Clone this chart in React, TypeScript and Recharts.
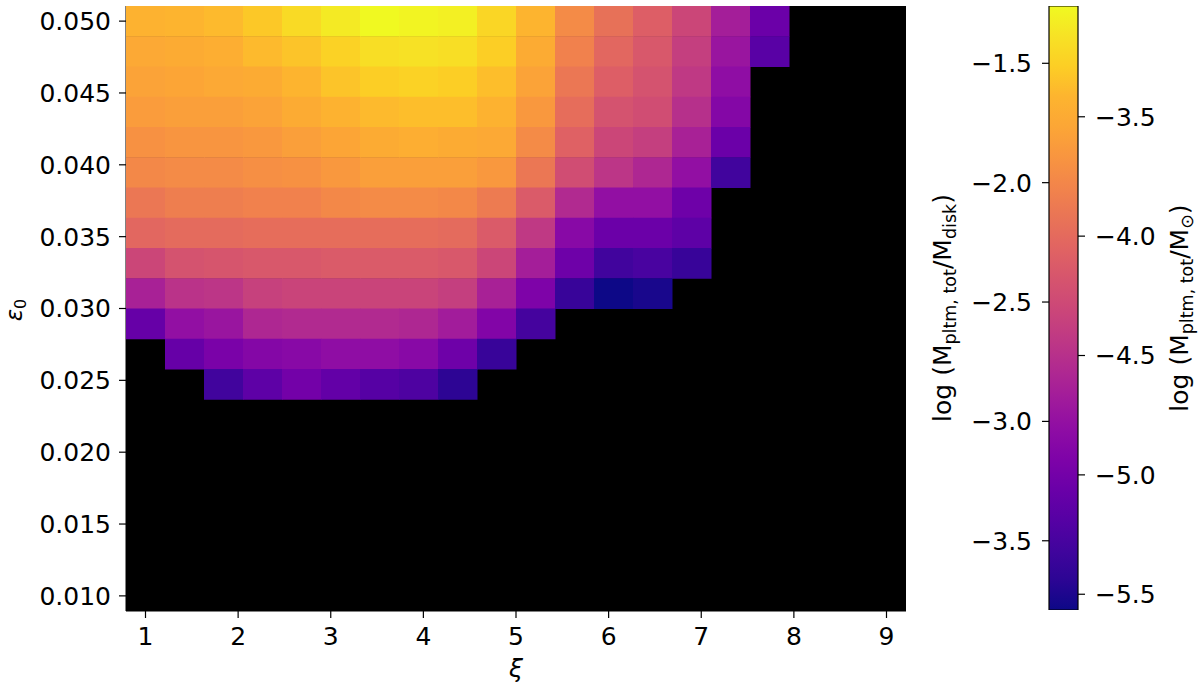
import { ScatterChart, Scatter, XAxis, YAxis, ReferenceArea, ComposedChart, Bar } from "recharts";

const FONT = "DejaVu Sans, sans-serif";

// cell centres of the parameter scan
const xiValues = [
  1, 1.421053, 1.842105, 2.263158, 2.684211, 3.105263, 3.526316, 3.947368, 4.368421, 4.789474,
  5.210526, 5.631579, 6.052632, 6.473684, 6.894737, 7.315789, 7.736842, 8.157895, 8.578947, 9,
];
const epsValues = [
  0.01, 0.012105, 0.014211, 0.016316, 0.018421, 0.020526, 0.022632, 0.024737, 0.026842, 0.028947,
  0.031053, 0.033158, 0.035263, 0.037368, 0.039474, 0.041579, 0.043684, 0.045789, 0.047895, 0.05,
];

// log(M_pltm,tot / M_disk) along xi for each eps0 row; missing / null = no planetesimals (black)
const logMass_eps0500 = [-1.66, -1.64, -1.61, -1.54, -1.44, -1.34, -1.26, -1.29, -1.31, -1.46, -1.64, -1.97, -2.17, -2.32, -2.53, -2.88, -3.28];
const logMass_eps0479 = [-1.74, -1.72, -1.69, -1.61, -1.56, -1.49, -1.41, -1.39, -1.41, -1.51, -1.72, -2.04, -2.25, -2.37, -2.6, -2.96, -3.39];
const logMass_eps0458 = [-1.79, -1.77, -1.74, -1.72, -1.64, -1.56, -1.51, -1.49, -1.51, -1.59, -1.79, -2.12, -2.32, -2.42, -2.65, -3.03];
const logMass_eps0437 = [-1.84, -1.82, -1.82, -1.79, -1.72, -1.66, -1.61, -1.59, -1.59, -1.66, -1.87, -2.2, -2.42, -2.47, -2.73, -3.11];
const logMass_eps0416 = [-1.92, -1.89, -1.89, -1.87, -1.82, -1.77, -1.72, -1.69, -1.72, -1.74, -1.97, -2.3, -2.53, -2.6, -2.85, -3.28];
const logMass_eps0395 = [-1.99, -1.97, -1.97, -1.94, -1.92, -1.87, -1.82, -1.82, -1.82, -1.87, -2.12, -2.47, -2.68, -2.8, -3.01, -3.54];
const logMass_eps0374 = [-2.12, -2.07, -2.07, -2.04, -2.04, -1.99, -1.97, -1.97, -1.99, -2.09, -2.35, -2.78, -3.01, -3.01, -3.26];
const logMass_eps0353 = [-2.25, -2.22, -2.22, -2.2, -2.2, -2.2, -2.2, -2.2, -2.22, -2.35, -2.65, -3.08, -3.28, -3.28, -3.36];
const logMass_eps0332 = [-2.53, -2.42, -2.4, -2.37, -2.37, -2.35, -2.35, -2.35, -2.37, -2.53, -2.88, -3.26, -3.54, -3.49, -3.59];
const logMass_eps0311 = [-2.85, -2.7, -2.68, -2.58, -2.55, -2.55, -2.55, -2.55, -2.6, -2.85, -3.16, -3.59, -3.79, -3.74];
const logMass_eps0289 = [-3.31, -3.01, -2.96, -2.8, -2.78, -2.78, -2.78, -2.8, -2.9, -3.13, -3.51];
const logMass_eps0268 = [null, -3.31, -3.18, -3.11, -3.08, -3.03, -3.03, -3.08, -3.26, -3.59];
const logMass_eps0247 = [null, null, -3.54, -3.36, -3.23, -3.33, -3.41, -3.46, -3.66];

const massRows: [number, (number | null)[]][] = [
  [epsValues[19], logMass_eps0500],
  [epsValues[18], logMass_eps0479],
  [epsValues[17], logMass_eps0458],
  [epsValues[16], logMass_eps0437],
  [epsValues[15], logMass_eps0416],
  [epsValues[14], logMass_eps0395],
  [epsValues[13], logMass_eps0374],
  [epsValues[12], logMass_eps0353],
  [epsValues[11], logMass_eps0332],
  [epsValues[10], logMass_eps0311],
  [epsValues[9], logMass_eps0289],
  [epsValues[8], logMass_eps0268],
  [epsValues[7], logMass_eps0247],
];

// colour limits (left colorbar axis) and log(M_disk/M_sun) for the right one
const colorMin = -3.79;
const colorMax = -1.26;
const logDiskMass = -1.776;

const xiTicks = [1, 2, 3, 4, 5, 6, 7, 8, 9];
const epsTicks = [0.01, 0.015, 0.02, 0.025, 0.03, 0.035, 0.04, 0.045, 0.05];
const cbDiskTicks = [-3.5, -3, -2.5, -2, -1.5];
const cbSunTicks = [-5.5, -5, -4.5, -4, -3.5];

const PLASMA = [
  "#0d0887", "#2c0594", "#41049d", "#5601a4", "#6a00a8", "#7e03a8", "#8f0da4", "#a11b9b",
  "#b12a90", "#bf3984", "#cc4778", "#d6556d", "#e16462", "#e97456", "#f2844b", "#f89540",
  "#fca636", "#fdb42f", "#fcce25", "#f7e225", "#f0f921",
];

const hexRgb = (h: string) => [1, 3, 5].map((i) => parseInt(h.slice(i, i + 2), 16));

function plasma(v: number) {
  const t = Math.min(1, Math.max(0, (v - colorMin) / (colorMax - colorMin)));
  const p = t * (PLASMA.length - 1);
  const i = Math.min(PLASMA.length - 2, Math.floor(p));
  const f = p - i;
  const a = hexRgb(PLASMA[i]);
  const b = hexRgb(PLASMA[i + 1]);
  const c = a.map((x, k) => Math.round(x + (b[k] - x) * f));
  return `rgb(${c[0]},${c[1]},${c[2]})`;
}

const cells = massRows.flatMap(([eps, row]) =>
  row.flatMap((v, i) => (v == null ? [] : [{ xi: xiValues[i], eps, v }]))
);

// the colorbar is one floating bar spanning the colour range
const colorbarData = [{ name: "cb", range: [colorMin, colorMax] }];

const halfXi = (xiValues[1] - xiValues[0]) / 2;
const halfEps = (epsValues[1] - epsValues[0]) / 2;
const xDomain = [xiValues[0] - halfXi, xiValues[xiValues.length - 1] + halfXi];
const yDomain = [epsValues[0] - halfEps, epsValues[epsValues.length - 1] + halfEps];

// main plot box: 780 x 605 px
const PLOT_W = 780;
const PLOT_H = 605;
const CELL_W = PLOT_W / xiValues.length;
const CELL_H = PLOT_H / epsValues.length;

const CellShape = (props: any) => {
  const { cx, cy, payload } = props;
  return (
    <rect
      x={cx - CELL_W / 2}
      y={cy - CELL_H / 2}
      width={CELL_W + 0.5}
      height={CELL_H + 0.5}
      fill={plasma(payload.v)}
    />
  );
};

const tickStyle = { fontSize: 25, fill: "#000", fontFamily: FONT };
const minus = (v: number) => (v < 0 ? "\u2212" : "") + Math.abs(v).toFixed(1);

export default function App() {
  return (
    <div style={{ position: "absolute", left: 0, top: 0, width: 1200, height: 690, background: "#fff" }}>
      <svg width={0} height={0} style={{ position: "absolute" }}>
        <defs>
          <linearGradient id="plasmaGrad" x1="0" y1="1" x2="0" y2="0">
            {PLASMA.map((c, i) => (
              <stop key={i} offset={i / (PLASMA.length - 1)} stopColor={c} />
            ))}
          </linearGradient>
        </defs>
      </svg>

      <div style={{ position: "absolute", left: 0, top: 0 }}>
        <ScatterChart width={910} height={690} margin={{ top: 6, right: 4, bottom: 0, left: 0 }}>
          <ReferenceArea
            x1={xDomain[0]}
            x2={xDomain[1]}
            y1={yDomain[0]}
            y2={yDomain[1]}
            fill="#000"
            fillOpacity={1}
            stroke="none"
          />
          <Scatter data={cells} shape={<CellShape />} isAnimationActive={false} />
          <XAxis
            type="number"
            dataKey="xi"
            domain={xDomain}
            ticks={xiTicks}
            interval={0}
            height={79}
            tickSize={7}
            tickMargin={9}
            tick={tickStyle}
            tickLine={{ stroke: "#000", strokeWidth: 1.2 }}
            axisLine={{ stroke: "#000", strokeWidth: 1 }}
            allowDataOverflow
          />
          <YAxis
            type="number"
            dataKey="eps"
            domain={yDomain}
            ticks={epsTicks}
            interval={0}
            width={126}
            tickSize={7}
            tickMargin={8}
            tick={tickStyle}
            tickFormatter={(v: number) => v.toFixed(3)}
            tickLine={{ stroke: "#000", strokeWidth: 1.2 }}
            axisLine={{ stroke: "#000", strokeWidth: 1 }}
            allowDataOverflow
          />
          <XAxis
            xAxisId="top"
            orientation="top"
            type="number"
            domain={xDomain}
            height={0}
            tick={false}
            tickLine={false}
            axisLine={{ stroke: "#000", strokeWidth: 1 }}
            allowDataOverflow
          />
          <YAxis
            yAxisId="right"
            orientation="right"
            type="number"
            domain={yDomain}
            width={0}
            tick={false}
            tickLine={false}
            axisLine={{ stroke: "#000", strokeWidth: 1 }}
            allowDataOverflow
          />
        </ScatterChart>
      </div>

      <div style={{ position: "absolute", left: 910, top: 0 }}>
        <ComposedChart
          width={290}
          height={690}
          data={colorbarData}
          margin={{ top: 6, right: 0, bottom: 80, left: 0 }}
          barCategoryGap={0}
          barGap={0}
        >
          <XAxis dataKey="name" type="category" hide />
          <YAxis
            yAxisId="disk"
            type="number"
            domain={[colorMin, colorMax]}
            ticks={cbDiskTicks}
            interval={0}
            width={139}
            tickSize={7}
            tickMargin={10}
            tick={tickStyle}
            tickFormatter={minus}
            tickLine={{ stroke: "#000", strokeWidth: 1.2 }}
            axisLine={false}
            allowDataOverflow
          />
          <YAxis
            yAxisId="sun"
            orientation="right"
            type="number"
            domain={[colorMin + logDiskMass, colorMax + logDiskMass]}
            ticks={cbSunTicks}
            interval={0}
            width={122}
            tickSize={7}
            tickMargin={10}
            tick={tickStyle}
            tickFormatter={minus}
            tickLine={{ stroke: "#000", strokeWidth: 1.2 }}
            axisLine={false}
            allowDataOverflow
          />
          <Bar
            yAxisId="disk"
            dataKey="range"
            fill="url(#plasmaGrad)"
            stroke="#000"
            strokeWidth={1.2}
            isAnimationActive={false}
          />
        </ComposedChart>
      </div>

      <svg
        width={1200}
        height={690}
        style={{ position: "absolute", left: 0, top: 0, pointerEvents: "none" }}
        fontFamily={FONT}
      >
        <text x={516} y={677} textAnchor="middle" fontSize={25} fontStyle="italic">
          ξ
        </text>
        <text x={22} y={310} transform="rotate(-90 22 310)" textAnchor="middle" fontSize={23}>
          <tspan fontStyle="italic">ε</tspan>
          <tspan fontSize={16} dy={4}>0</tspan>
        </text>
        <text x={951} y={308} transform="rotate(-90 951 308)" textAnchor="middle" fontSize={25}>
          <tspan>log (M</tspan>
          <tspan fontSize={17.5} dy={5}>pltm, tot</tspan>
          <tspan dy={-5}>/M</tspan>
          <tspan fontSize={17.5} dy={5}>disk</tspan>
          <tspan dy={-5}>)</tspan>
        </text>
        <text x={1188} y={308} transform="rotate(-90 1188 308)" textAnchor="middle" fontSize={25}>
          <tspan>log (M</tspan>
          <tspan fontSize={17.5} dy={5}>pltm, tot</tspan>
          <tspan dy={-5}>/M</tspan>
          <tspan fontSize={17.5} dy={5}>⊙</tspan>
          <tspan dy={-5}>)</tspan>
        </text>
      </svg>
    </div>
  );
}
